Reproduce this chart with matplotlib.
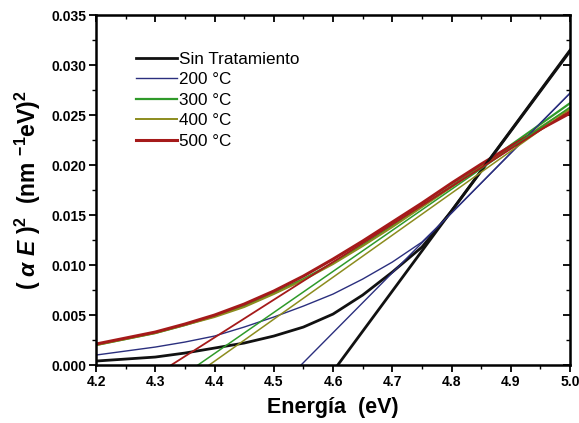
import matplotlib
matplotlib.use("Agg")
import matplotlib.pyplot as plt
from matplotlib.ticker import MultipleLocator, FormatStrFormatter

plt.rcParams['font.family'] = ['Liberation Sans', 'DejaVu Sans']
plt.rcParams['mathtext.fontset'] = 'custom'
plt.rcParams['mathtext.rm'] = 'Liberation Sans'
plt.rcParams['mathtext.it'] = 'Liberation Sans:italic'
plt.rcParams['mathtext.bf'] = 'Liberation Sans:bold'
plt.rcParams['mathtext.bfit'] = 'Liberation Sans:bold:italic'

# Photon energy grid (eV)
energy = [4.20, 4.25, 4.30, 4.35, 4.40, 4.45, 4.50, 4.55, 4.60,
          4.65, 4.70, 4.75, 4.80, 4.85, 4.90, 4.95, 5.00]

# (alpha E)^2 for each annealing condition
sin_tratamiento = [0.0004, 0.0006, 0.0008, 0.0012, 0.0017, 0.0022, 0.0029, 0.0038, 0.0051,
                   0.0070, 0.0093, 0.0118, 0.0154, 0.0194, 0.0234, 0.0274, 0.0314]
t200 = [0.0010, 0.0014, 0.0018, 0.0023, 0.0029, 0.0038, 0.0048, 0.0059, 0.0071,
        0.0086, 0.0103, 0.0123, 0.0152, 0.0182, 0.0212, 0.0242, 0.0272]
t300 = [0.0020, 0.0026, 0.0032, 0.0040, 0.0049, 0.0059, 0.0072, 0.0086, 0.0102,
        0.0120, 0.0139, 0.0159, 0.0179, 0.0199, 0.0220, 0.0241, 0.0262]
t400 = [0.0020, 0.0026, 0.0032, 0.0040, 0.0048, 0.0058, 0.0071, 0.0085, 0.0101,
        0.0119, 0.0138, 0.0158, 0.0178, 0.0198, 0.0218, 0.0238, 0.0257]
t500 = [0.0021, 0.0027, 0.0033, 0.0041, 0.0050, 0.0061, 0.0074, 0.0089, 0.0106,
        0.0124, 0.0143, 0.0162, 0.0182, 0.0201, 0.0219, 0.0236, 0.0252]

labels = ['Sin Tratamiento', '200 °C', '300 °C', '400 °C', '500 °C']
colors = ['#111111', '#2b2f7e', '#2f9a2a', '#8c8c1e', '#a51a1a']
curve_widths = [2.0, 1.0, 1.6, 1.4, 2.2]

# Linear extrapolations: x-intercept (band gap) and value reached at 5.0 eV
gap_energy = [4.608, 4.546, 4.372, 4.391, 4.327]
line_end_energy = [5.0, 5.0, 5.0, 5.0, 5.0]
line_end_value = [0.0315, 0.0272, 0.0258, 0.0256, 0.0254]
line_widths = [2.0, 1.0, 1.1, 1.1, 1.3]

curves = [sin_tratamiento, t200, t300, t400, t500]

fig = plt.figure(figsize=(5.79, 4.23), dpi=100)
ax = fig.add_axes([0.1658, 0.137, 0.8187, 0.827])

handles = []
for y, c, lw, lab in zip(curves, colors, curve_widths, labels):
    h, = ax.plot(energy, y, color=c, lw=lw, label=lab, solid_joinstyle='round')
    handles.append(h)

for e0, e1, v1, c, lw in zip(gap_energy, line_end_energy, line_end_value, colors, line_widths):
    ax.plot([e0, e1], [0.0, v1], color=c, lw=lw)

ax.set_xlim(4.2, 5.0)
ax.set_ylim(0.0, 0.035)

ax.xaxis.set_major_locator(MultipleLocator(0.1))
ax.xaxis.set_minor_locator(MultipleLocator(0.05))
ax.yaxis.set_major_locator(MultipleLocator(0.005))
ax.yaxis.set_minor_locator(MultipleLocator(0.0025))
ax.xaxis.set_major_formatter(FormatStrFormatter('%.1f'))
ax.yaxis.set_major_formatter(FormatStrFormatter('%.3f'))

for s in ax.spines.values():
    s.set_linewidth(1.8)

ax.tick_params(axis='both', which='major', direction='out', length=5, width=1.3,
               labelsize=10, pad=2)
ax.tick_params(axis='both', which='minor', direction='out', length=3, width=1.0)
for lab in ax.get_xticklabels() + ax.get_yticklabels():
    lab.set_fontweight('bold')

# Mirrored ticks on top and right, pointing inward
axt = ax.secondary_xaxis('top')
axt.xaxis.set_major_locator(MultipleLocator(0.1))
axt.xaxis.set_minor_locator(MultipleLocator(0.05))
axt.tick_params(which='major', direction='in', length=5, width=1.3, labeltop=False)
axt.tick_params(which='minor', direction='in', length=3, width=1.0)
axr = ax.secondary_yaxis('right')
axr.yaxis.set_major_locator(MultipleLocator(0.005))
axr.yaxis.set_minor_locator(MultipleLocator(0.0025))
axr.tick_params(which='major', direction='in', length=5, width=1.3, labelright=False)
axr.tick_params(which='minor', direction='in', length=3, width=1.0)

ax.set_xlabel('Energía  (eV)', fontsize=15.5, fontweight='bold', labelpad=6)
ax.set_ylabel(r'$\mathbf{(\ }\boldsymbol{\alpha}\ \boldsymbol{E}\mathbf{\ )^2\ \ (nm\ ^{-1}eV)^2}$',
              fontsize=16.5, labelpad=6)

ax.legend(handles=handles, loc='upper left', bbox_to_anchor=(0.06, 0.93),
          frameon=False, fontsize=12.3, handlelength=2.4, handletextpad=0.12,
          labelspacing=0.32, borderpad=0.2)

fig.savefig('out.png', dpi=100)
